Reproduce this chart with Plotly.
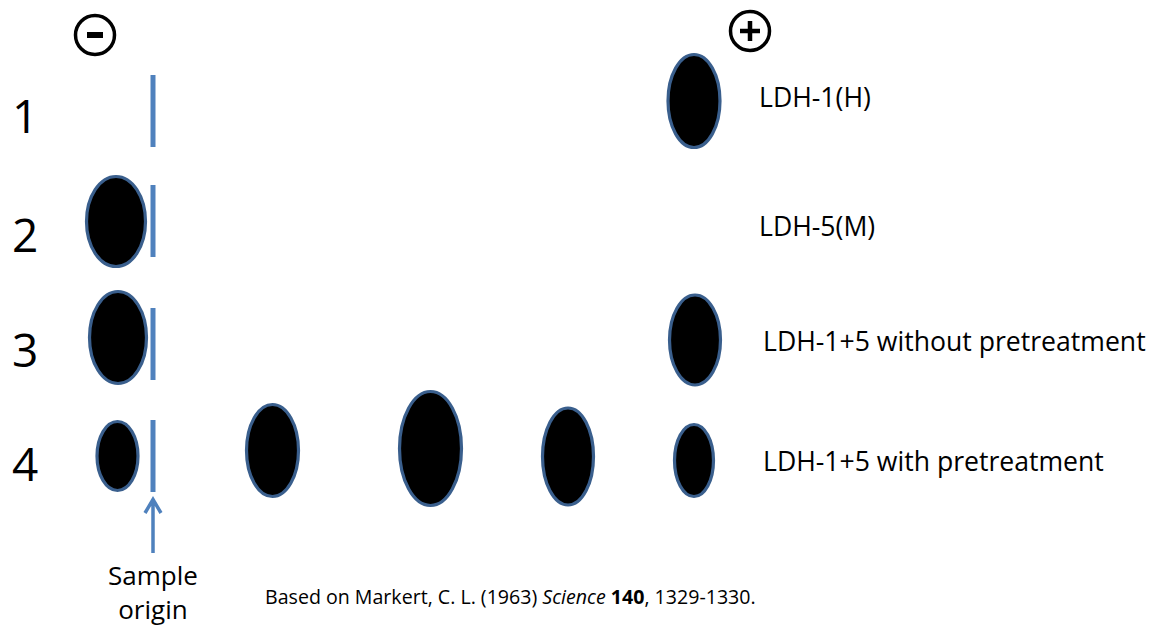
import plotly.graph_objects as go

# ---------------- data ----------------
lane_numbers = ["1", "2", "3", "4"]
lane_labels = ["LDH-1(H)", "LDH-5(M)", "LDH-1+5 without pretreatment", "LDH-1+5 with pretreatment"]
lane_number_y = [115, 234, 349, 463]       # vertical position of lane numbers
lane_label_y = [97, 226, 341, 461]         # vertical position of lane labels
origin_mark_y = [111, 221, 344, 456]       # centre of the sample-origin slot per lane

# bands: migration distance from origin (negative = towards cathode), centre y, half sizes
band_lane = [1, 2, 3, 3, 4, 4, 4, 4, 4]
band_migration = [541, -37, -35, 542, -35.5, 119.5, 277.5, 415, 541]
band_y = [101, 221.5, 337.5, 340, 456, 450.5, 448.5, 456.5, 460.5]
band_halfwidth = [26, 29.5, 28.5, 25.5, 20.5, 26, 31, 25.5, 19.5]
band_halfheight = [46.5, 45, 46, 45, 34.5, 46, 57, 48.5, 36]

citation = "Based on Markert, C. L. (1963) <i>Science</i> <b>140</b>, 1329-1330."

# ---------------- figure ----------------
W, H = 1165, 627
ORIGIN_PX = 153
FONT = "Open Sans"
BLUE = "#4F81BD"
OUTLINE = "#3A5F8D"

fig = go.Figure()
fig.add_trace(go.Scatter(x=[None], y=[None], showlegend=False, hoverinfo="skip"))

shapes = []
# origin slots
for yc in origin_mark_y:
    shapes.append(dict(type="line", xref="x", yref="y", x0=0, x1=0, y0=yc - 36, y1=yc + 36,
                       line=dict(color=BLUE, width=5)))
# bands
for m, yc, hw, hh in zip(band_migration, band_y, band_halfwidth, band_halfheight):
    shapes.append(dict(type="circle", xref="x", yref="y", x0=m - hw, x1=m + hw, y0=yc - hh, y1=yc + hh,
                       fillcolor="black", line=dict(color=OUTLINE, width=3.2)))
# sample origin arrow
shapes.append(dict(type="path", xref="x", yref="y",
                   path="M 0 553 L 0 499 M -8 513 L 0 499.5 L 8 513",
                   line=dict(color=BLUE, width=3.5)))
# electrode symbols
cat_x, cat_y, an_x, an_y, r = 95 - ORIGIN_PX, 35, 750 - ORIGIN_PX, 31, 19.5
shapes.append(dict(type="circle", xref="x", yref="y", x0=cat_x - r, x1=cat_x + r, y0=cat_y - r, y1=cat_y + r,
                   line=dict(color="black", width=3.5), fillcolor="rgba(0,0,0,0)"))
shapes.append(dict(type="line", xref="x", yref="y", x0=cat_x - 8, x1=cat_x + 8, y0=cat_y, y1=cat_y,
                   line=dict(color="black", width=6)))
shapes.append(dict(type="circle", xref="x", yref="y", x0=an_x - r, x1=an_x + r, y0=an_y - r, y1=an_y + r,
                   line=dict(color="black", width=3.5), fillcolor="rgba(0,0,0,0)"))
shapes.append(dict(type="line", xref="x", yref="y", x0=an_x - 10, x1=an_x + 10, y0=an_y, y1=an_y,
                   line=dict(color="black", width=4.5)))
shapes.append(dict(type="line", xref="x", yref="y", x0=an_x, x1=an_x, y0=an_y - 10, y1=an_y + 10,
                   line=dict(color="black", width=4.5)))

annotations = []
for t, yc in zip(lane_numbers, lane_number_y):
    annotations.append(dict(x=25 - ORIGIN_PX, y=yc, xref="x", yref="y", text=t, showarrow=False,
                            xanchor="center", yanchor="middle", font=dict(family=FONT, size=46, color="black")))
for i, (t, yc) in enumerate(zip(lane_labels, lane_label_y)):
    x0 = 757 if i < 2 else 761
    annotations.append(dict(x=x0 - ORIGIN_PX, y=yc, xref="x", yref="y", text=t, showarrow=False,
                            xanchor="left", yanchor="middle", font=dict(family=FONT, size=26.6, color="black")))
annotations.append(dict(x=0, y=592, xref="x", yref="y", text="Sample<br>origin", showarrow=False,
                        xanchor="center", yanchor="middle", align="center",
                        font=dict(family=FONT, size=26, color="black")))
annotations.append(dict(x=263 - ORIGIN_PX, y=596, xref="x", yref="y", text=citation, showarrow=False,
                        xanchor="left", yanchor="middle", font=dict(family=FONT, size=19.6, color="black")))

fig.update_layout(
    width=W, height=H, autosize=False,
    margin=dict(l=0, r=0, t=0, b=0),
    paper_bgcolor="white", plot_bgcolor="white",
    xaxis=dict(range=[-ORIGIN_PX, W - ORIGIN_PX], visible=False, fixedrange=True),
    yaxis=dict(range=[H, 0], visible=False, fixedrange=True),
    shapes=shapes, annotations=annotations, showlegend=False, hovermode=False,
)
fig.write_html("out.html", config={"displayModeBar": False, "staticPlot": True},
               post_script="document.body.style.margin='0';document.body.style.overflow='hidden';")
